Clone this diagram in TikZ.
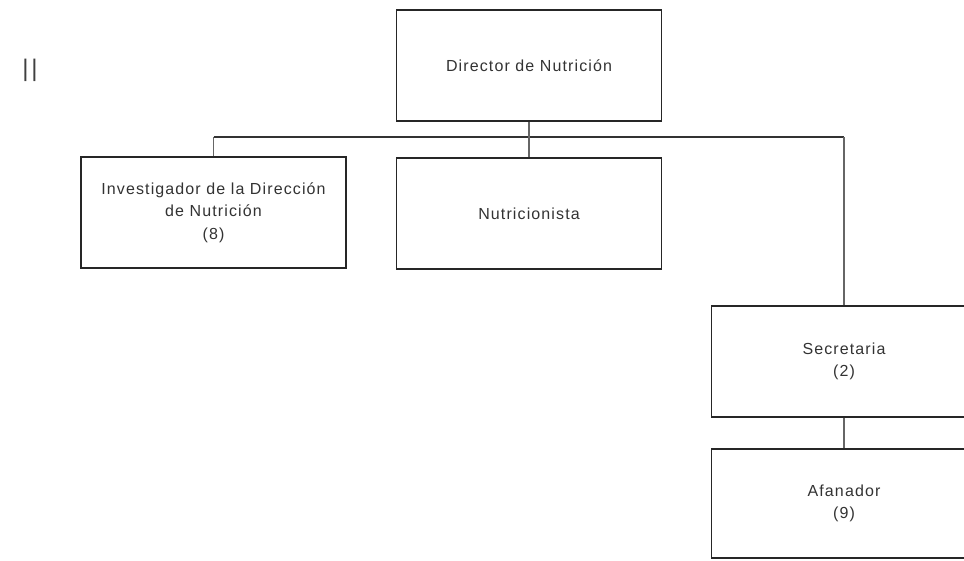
\documentclass[tikz,border=0pt]{standalone}
\usepackage{fontspec}
\setmainfont{Liberation Sans}[LetterSpace=7]
\newfontfamily\barfont{Liberation Sans}
\begin{document}
\begin{tikzpicture}[x=1pt,y=-1pt,
  orgbox/.style={draw=black!85,line width=1.8pt,minimum width=265pt,minimum height=111pt,
    inner sep=0pt,align=center,text=black!80,font=\fontsize{16}{22.5}\selectfont},
  bus/.style={draw=black!80,line width=1.8pt},
  link/.style={draw=black!60,line width=1.3pt}]
\useasboundingbox (0,0) rectangle (964,560);
\clip (0,0) rectangle (964,560);
\fill[white] (0,0) rectangle (964,560);
\node[text=black!75,font=\barfont\fontsize{24}{24}\selectfont,inner sep=0pt] (mark) at (30,70) {|\kern2.6pt|};
\node[orgbox] (dir) at (529,65.5) {Director de Nutrición};
\node[orgbox] (inv) at (213.5,212.5) {Investigador de la Dirección\\de Nutrición\\(8)};
\node[orgbox] (nut) at (529,213.5) {Nutricionista};
\node[orgbox] (sec) at (844,361.5) {Secretaria\\(2)};
\node[orgbox,minimum height=109pt] (afa) at (844,503.5) {Afanador\\(9)};
\coordinate (bl) at (213.5,137);
\coordinate (br) at (844,137);
\draw[bus] (bl) -- (br);
\draw[link] (dir.south) -- (nut.north);
\draw[link] (inv.north) -- (bl);
\draw[link] (br) -- (sec.north);
\draw[link] (sec.south) -- (afa.north);
\end{tikzpicture}
\end{document}
